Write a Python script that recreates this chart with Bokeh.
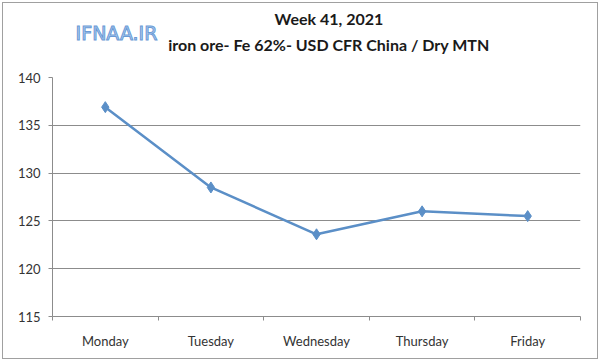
from bokeh.plotting import figure
from bokeh.models import Range1d, FixedTicker
from bokeh.layouts import column
from bokeh.core.properties import value
from bokeh.embed import file_html
from bokeh.resources import INLINE

days = ["Monday", "Tuesday", "Wednesday", "Thursday", "Friday"]
prices = [136.9, 128.5, 123.6, 126.0, 125.5]
y_ticks = [115, 120, 125, 130, 135, 140]
title_main = "Week 41, 2021"
title_sub = "iron ore- Fe 62%- USD CFR China / Dry MTN"
logo_text = "IFNAA.IR"

xs = [i + 0.5 for i in range(len(days))]

W, HH, H = 594, 66, 289
font = "Lato"

# header with titles and logo
hdr = figure(width=W, height=HH, output_backend="svg", toolbar_location=None,
             x_range=Range1d(0, W), y_range=Range1d(HH, 0),
             x_axis_type=None, y_axis_type=None,
             min_border_left=0, min_border_right=0, min_border_top=0, min_border_bottom=0)
hdr.grid.visible = False
hdr.outline_line_color = None
hdr.background_fill_color = "white"
hdr.border_fill_color = "white"
hdr.text(x=[311], y=[15], text=[title_main], text_align="center", text_baseline="middle",
         text_font=value(font), text_font_style="bold", text_font_size="16px", text_color="#1a1a1a")
hdr.text(x=[311], y=[41], text=[title_sub], text_align="center", text_baseline="middle",
         text_font=value(font), text_font_style="bold", text_font_size="16px", text_color="#1a1a1a")
hdr.text(x=[26], y=[29], text=[logo_text], text_align="left", text_baseline="middle",
         text_font=value("DejaVu Sans"), text_font_size="19px", text_color="#b3d0f0",
         text_outline_color="#6a9ad6")

p = figure(width=W, height=H, output_backend="svg", toolbar_location=None,
           x_range=Range1d(0, len(days)), y_range=Range1d(y_ticks[0], y_ticks[-1]),
           min_border_left=49, min_border_right=17, min_border_top=8, min_border_bottom=42)
p.outline_line_color = None
p.background_fill_color = "white"
p.border_fill_color = "white"

axis_col = "#8c8c8c"
grid_col = "#8c8c8c"
lab_col = "#333333"

xa = p.xaxis[0]
xa.ticker = FixedTicker(ticks=xs, minor_ticks=list(range(len(days) + 1)))
xa.major_label_overrides = {x: d for x, d in zip(xs, days)}
xa.major_tick_out = 0
xa.major_tick_in = 0
xa.minor_tick_out = 4
xa.minor_tick_in = 0
xa.minor_tick_line_color = axis_col
xa.axis_line_color = axis_col
xa.major_label_standoff = 12
xa.major_label_text_font = font
xa.major_label_text_font_size = "13px"
xa.major_label_text_color = lab_col

ya = p.yaxis[0]
ya.ticker = FixedTicker(ticks=y_ticks)
ya.major_tick_out = 4
ya.major_tick_in = 0
ya.major_tick_line_color = axis_col
ya.minor_tick_line_color = None
ya.axis_line_color = axis_col
ya.major_label_standoff = 8
ya.major_label_text_font = font
ya.major_label_text_font_size = "13px"
ya.major_label_text_color = lab_col

p.xgrid.visible = False
p.ygrid.ticker = FixedTicker(ticks=y_ticks)
p.ygrid.grid_line_color = grid_col
p.ygrid.grid_line_width = 1

line_col = "#5b8fc7"
p.line(xs, prices, line_color=line_col, line_width=2.5)
p.scatter(xs, prices, marker="diamond", size=11, fill_color=line_col, line_color=line_col)

layout = column(hdr, p, spacing=0,
                styles={"border": "1px solid #a0a0a0", "margin-left": "2px", "margin-top": "2px",
                        "background-color": "white"})

open("out.html", "w").write(file_html(layout, INLINE))
